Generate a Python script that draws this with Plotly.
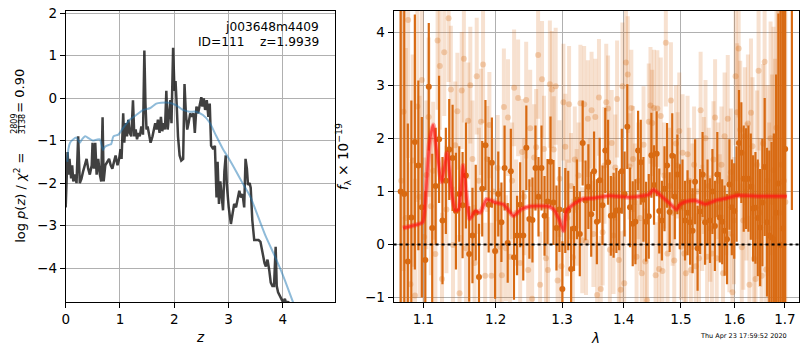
import numpy as np
import plotly.graph_objects as go

# ---------------- redshift probability p(z) ----------------
z_pz = [0, 0.02, 0.035, 0.055, 0.07, 0.1, 0.12, 0.14, 0.17, 0.2, 0.23, 0.26, 0.29, 0.32, 0.35,
        0.385, 0.415, 0.445, 0.48, 0.495, 0.52, 0.545, 0.57, 0.6, 0.63, 0.655, 0.68, 0.7, 0.73,
        0.765, 0.8, 0.83, 0.86, 0.89, 0.92, 0.955, 0.985, 1.01, 1.03, 1.06, 1.08, 1.105, 1.13,
        1.155, 1.18, 1.21, 1.24, 1.265, 1.29, 1.315, 1.34, 1.365, 1.395, 1.425, 1.45, 1.47, 1.49,
        1.51, 1.535, 1.565, 1.6, 1.62, 1.65, 1.675, 1.7, 1.73, 1.755, 1.78, 1.805, 1.83, 1.855,
        1.88, 1.9, 1.93, 1.95, 1.98, 2.005, 2.025, 2.045, 2.07, 2.1, 2.13, 2.165, 2.19, 2.215,
        2.24, 2.265, 2.295, 2.325, 2.355, 2.38, 2.41, 2.44, 2.47, 2.5, 2.52, 2.545, 2.57, 2.6,
        2.63, 2.655, 2.68, 2.72, 2.75, 2.78, 2.8, 2.825, 2.85, 2.875, 2.9, 2.925, 2.95, 2.97,
        3.005, 3.045, 3.075, 3.105, 3.14, 3.17, 3.2, 3.23, 3.26, 3.29, 3.315, 3.34, 3.36, 3.39,
        3.41, 3.44, 3.475, 3.505, 3.555, 3.59, 3.625, 3.665, 3.69, 3.72, 3.75, 3.78, 3.81, 3.84,
        3.87, 3.89, 3.915, 3.945, 3.97, 4.005, 4.04, 4.07, 4.1, 4.14]
logp_pz = [-2.57, -1.73, -1.27, -1.8, -1.43, -1.89, -1.58, -1.96, -1.8, -2.0, -0.9, -2.0, -1.9,
           -1.73, -1.58, -1.43, -1.66, -1.8, -1.58, -1.05, -1.66, -1.05, -1.8, -1.43, -1.8, -1.96,
           -0.45, -1.96, -1.58, -1.5, -1.43, -1.58, -1.66, -1.5, -1.35, -1.58, -1.43, -1.2, -1.43,
           -0.36, -1.05, -0.59, -0.9, -0.51, -0.82, -0.9, -0.05, -0.9, -0.74, -0.97, -0.82, -0.9,
           -0.67, -0.86, 1.12, -0.13, -0.74, -0.67, -0.9, -1.05, -0.9, -0.74, -0.59, -0.74, -0.51,
           -0.82, -0.44, -0.78, -0.59, -0.74, 0.17, -0.74, -0.51, -0.05, -0.59, 1.18, 0.17, 0.4,
           -0.13, -0.9, -1.35, -1.47, -1.43, 0.33, -0.36, -0.74, -0.59, -0.36, -0.44, -0.36, -0.82,
           -0.2, -0.36, -0.13, 0.02, -0.2, -0.01, -0.28, -0.05, -0.44, -0.13, -1.12, -1.2, -1.12,
           -2.34, -1.5, -2.49, -1.96, -2.34, -2.64, -1.73, -1.35, -2.04, -2.57, -2.96, -2.73,
           -2.49, -2.57, -2.34, -2.18, -2.34, -2.26, -2.57, -1.43, -1.66, -2.04, -2.0, -2.11,
           -2.88, -3.34, -3.34, -3.34, -3.38, -3.65, -3.88, -3.96, -3.8, -4.03, -4.34, -4.42,
           -4.42, -3.5, -4.42, -4.57, -4.65, -4.72, -4.8, -4.72, -4.85, -4.78, -4.95]

# smooth template-fit p(z)
z_tpl = [0.03, 0.05, 0.08, 0.13, 0.2, 0.26, 0.3, 0.36, 0.43, 0.5, 0.57, 0.63, 0.66, 0.69, 0.72,
         0.76, 0.8, 0.84, 0.88, 0.97, 1.06, 1.18, 1.3, 1.43, 1.55, 1.67, 1.76, 1.91, 2.04, 2.16,
         2.28, 2.4, 2.53, 2.65, 2.77, 2.89, 3.02, 3.14, 3.26, 3.41, 3.55, 3.69, 3.83, 3.96, 4.08,
         4.19, 4.3]
logp_tpl = [-1.5, -1.2, -1.05, -0.98, -0.93, -1.05, -0.97, -0.9, -0.95, -1.0, -0.98, -0.97,
            -1.1, -1.22, -1.15, -1.12, -1.1, -1.08, -0.9, -0.86, -0.7, -0.51, -0.4, -0.28, -0.24,
            -0.13, -0.11, -0.11, -0.17, -0.28, -0.32, -0.32, -0.4, -0.57, -0.88, -1.18, -1.45,
            -1.72, -2.0, -2.34, -2.8, -3.26, -3.65, -4.03, -4.42, -4.8, -5.15]

# ---------------- 1D spectrum (units of 1e-19) ----------------
wave_dark = np.round(1.0704 + 0.0046 * np.arange(141), 4)
flux_dark = [1.00, 0.95, -0.32, 0.51, 1.93, 1.49, 0.70, -0.29, 2.97, 0.31,
             1.10, 1.98, 0.45, 1.20, 1.79, 1.63, 0.63, 0.95, 0.74, 1.30,
             -0.18, 0.17, 0.60, -0.61, 1.05, 1.87, 0.75, 1.54, -0.12, 0.95,
             0.42, 1.44, 0.03, 1.38, -0.24, 0.17, 0.75, 0.17, 1.82, 0.48,
             0.46, 1.44, 0.90, 1.44, 0.54, 0.81, 1.56, 0.79, 0.31, 0.66,
             -0.84, 0.64, 0.64, -0.46, 0.30, 0.85, 0.20, 1.91, 0.83, 1.09,
             0.57, 1.38, 0.43, 1.21, 0.74, 1.77, 1.55, 0.54, 0.55, 0.64,
             0.64, 1.38, 0.95, 2.22, 0.70, 0.39, 0.43, 1.77, 1.55, 0.85,
             0.43, 0.53, 1.68, 1.12, 1.71, 0.63, 0.45, 1.05, 1.49, 0.61,
             1.67, 0.90, 1.32, 0.71, 0.80, 0.45, 0.60, 0.42, 0.26, 1.18,
             -0.07, 0.62, 1.32, 0.42, 0.80, 0.45, 1.00, 0.35, 1.32, 0.51,
             0.43, 0.26, 0.10, 1.13, 0.70, 0.63, 0.95, 1.91, 1.73, 1.24,
             1.24, 1.24, 1.09, 0.68, 0.69, 0.50, 0.32, 0.79, 1.46, 0.42,
             0.17, 0.13, 0.09, 0.60, 1.15, -0.01, 0.30, 1.80, None, None,
             4.90]
err_dark = [4.5, 3.6, 2.6, 2.2, 2.4, 1.6, 1.7, 1.3, 1.2, 1.4,
            1.1, 1.2, 1.2, 1.0, 0.95, 1.0, 1.1, 0.9, 1.0, 1.0,
            0.9, 0.9, 0.9, 1.0, 0.9, 0.85, 0.9, 0.85, 0.9, 0.8,
            0.75, 0.8, 0.75, 0.8, 0.8, 0.75, 0.8, 0.85, 0.8, 0.75,
            0.8, 0.8, 0.75, 0.8, 0.75, 0.8, 0.85, 0.8, 0.8, 0.8,
            0.9, 0.8, 0.75, 0.8, 0.8, 0.75, 0.8, 0.8, 0.75, 0.8,
            0.8, 0.75, 0.8, 0.8, 0.75, 0.8, 0.8, 0.75, 0.8, 0.8,
            0.75, 0.8, 0.8, 0.8, 0.75, 0.8, 0.8, 0.75, 0.8, 0.8,
            0.75, 0.8, 0.8, 0.75, 0.8, 0.8, 0.75, 0.8, 0.8, 0.75,
            0.8, 0.8, 0.75, 0.8, 0.8, 0.75, 0.8, 0.8, 0.8, 0.8,
            0.8, 0.8, 0.8, 0.8, 0.8, 0.8, 0.8, 0.85, 0.8, 0.85,
            0.8, 0.85, 0.85, 0.85, 0.9, 0.9, 0.9, 1.0, 0.95, 1.0,
            0.95, 1.0, 1.0, 1.0, 1.05, 1.1, 1.1, 1.2, 1.3, 1.4,
            1.6, 1.8, 2.0, 2.6, 3.2, 4.5, 5.0, 5.0, 0, 0,
            4.25]

wave_light = np.round(1.071 + 0.003 * np.arange(211), 4)
flux_light = [1.2, 2.5, 0.5, 4.23, -0.75, 1.58, -0.96, 2.6, 0.9, 3.1,
              0.14, 1.31, 2.4, 0.72, 1.39, -0.18, 3.84, 3.36, -0.65, 3.62,
              0.66, 4.26, 2.92, -0.01, 1.87, 2.51, -0.92, 2.90, 3.50, -0.07,
              2.33, 3.00, 1.61, -0.35, 3.17, 1.20, 2.31, 3.39, -0.59, 1.61,
              2.25, -0.59, 1.00, -0.13, 1.44, -0.04, -0.58, 2.59, -0.07, 2.39,
              -0.23, 1.20, 2.95, 0.60, 2.76, -0.35, 1.74, 0.90, 2.72, -0.48,
              2.19, -1.02, 1.64, 1.83, 3.57, -0.76, 3.11, 1.80, -0.26, -0.48,
              3.02, 2.92, 1.79, 2.98, -0.68, 1.24, -0.41, 2.68, 1.84, 0.50,
              2.64, 1.10, -0.24, 1.60, 0.70, 1.30, 2.66, 0.08, 2.64, 0.05,
              2.37, 1.00, 2.53, 0.20, 2.40, -0.95, 2.77, -0.84, 0.23, 1.49,
              2.68, 2.56, -0.10, 1.91, 0.17, 1.45, 2.74, -0.29, -0.85, 2.98,
              -0.73, 3.43, 3.20, 1.47, 2.57, 1.61, 0.80, -0.23, 1.20, 0.50,
              -0.54, 1.88, -0.32, -1.05, 2.31, 2.62, 2.29, 2.57, -0.58, 2.56,
              -0.46, 2.42, -0.50, 1.30, 3.80, -0.17, 1.10, 2.71, 0.60, -0.30,
              1.90, 1.49, 2.14, -0.04, 1.73, -0.17, -0.54, 1.70, 1.20, -0.48,
              0.90, 1.50, -0.41, 1.00, -0.26, 2.53, 0.50, 1.30, 2.00, -0.23,
              1.10, 0.30, -0.17, 1.60, 2.39, -0.26, 1.20, 0.70, 1.50, -0.54,
              2.04, 0.90, 2.37, 0.20, 1.36, -0.90, 0.45, 3.17, 2.49, 3.69,
              2.16, -0.05, 0.45, 2.04, 1.00, 2.28, -0.76, 2.48, 1.85, -0.27,
              -0.65, 1.50, 3.27, 0.60, -0.59, 1.90, 3.44, -0.47, 1.20, 0.30,
              2.00, 0.80, 1.40, 0.50, 2.20, 1.00, 0.60, 1.50, 0.90, 1.20,
              0.80]
err_light = [3.5, 3.0, 3.2, 2.6, 2.3, 2.0, 2.2, 1.8, 1.9, 1.6,
             1.5, 1.4, 1.5, 1.3, 1.3, 1.3, 1.3, 1.2, 1.25, 1.2,
             1.2, 1.2, 1.2, 1.1, 1.2, 1.1, 1.1, 1.1, 1.2, 1.1,
             1.1, 1.1, 1.1, 1.1, 1.1, 1.0, 1.0, 1.1, 1.0, 1.0,
             1.0, 1.0, 1.0, 1.0, 1.0, 1.1, 1.0, 1.1, 1.0, 1.1,
             1.0, 1.1, 1.1, 1.0, 1.1, 1.0, 1.0, 1.1, 1.1, 1.0,
             1.1, 1.0, 1.0, 1.1, 1.2, 1.0, 1.1, 1.0, 1.1, 1.0,
             1.2, 1.1, 1.0, 1.1, 1.0, 1.1, 1.0, 1.1, 1.0, 1.1,
             1.1, 1.0, 1.1, 1.0, 1.1, 1.0, 1.1, 1.0, 1.1, 1.0,
             1.1, 1.0, 1.1, 1.0, 1.1, 1.0, 1.1, 1.0, 1.0, 1.1,
             1.1, 1.0, 1.1, 1.0, 1.1, 1.0, 1.1, 1.0, 1.1, 1.2,
             1.0, 1.2, 1.1, 1.0, 1.1, 1.0, 1.1, 1.0, 1.1, 1.0,
             1.0, 1.1, 1.0, 1.1, 1.1, 1.1, 1.0, 1.1, 1.0, 1.1,
             1.0, 1.1, 1.0, 1.0, 1.2, 1.0, 1.1, 1.1, 1.0, 1.0,
             1.1, 1.0, 1.1, 1.0, 1.1, 1.0, 1.0, 1.1, 1.0, 1.0,
             1.0, 1.1, 1.0, 1.0, 1.0, 1.1, 1.0, 1.1, 1.1, 1.0,
             1.1, 1.0, 1.0, 1.1, 1.1, 1.0, 1.1, 1.0, 1.1, 1.1,
             1.2, 1.1, 1.2, 1.1, 1.2, 1.1, 1.2, 1.3, 1.3, 1.3,
             1.3, 1.2, 1.3, 1.3, 1.3, 1.3, 1.3, 1.4, 1.3, 1.4,
             1.4, 1.4, 1.5, 1.4, 1.5, 1.5, 1.6, 1.6, 1.8, 2.0,
             2.2, 2.4, 2.7, 3.0, 3.3, 3.6, 4.0, 4.3, 4.6, 5.0,
             5.0]

# best-fit model
wave_model = [1.0733, 1.0850, 1.0990, 1.1035, 1.1080, 1.1130, 1.1180, 1.1244, 1.1320, 1.1390,
              1.1432, 1.1475, 1.1540, 1.1590, 1.1630, 1.1710, 1.1780, 1.1870, 1.2000, 1.2120,
              1.2260, 1.2370, 1.2520, 1.2770, 1.2870, 1.2950, 1.3023, 1.3070, 1.3180, 1.3330,
              1.3480, 1.3760, 1.4090, 1.4430, 1.4510, 1.4620, 1.4790, 1.4920, 1.4980, 1.5090,
              1.5260, 1.5450, 1.5640, 1.5840, 1.6030, 1.6500, 1.7040]
flux_model = [0.31, 0.35, 0.42, 1.00, 1.90, 2.25, 1.75, 1.18, 1.73, 0.90,
              0.64, 0.66, 1.49, 0.85, 0.48, 0.63, 0.60, 0.85, 0.79, 0.75,
              0.54, 0.66, 0.72, 0.72, 0.66, 0.48, 0.26, 0.63, 0.76, 0.86,
              0.87, 0.92, 0.89, 0.94, 1.03, 0.94, 0.78, 0.66, 0.75, 0.81,
              0.83, 0.76, 0.83, 0.87, 0.92, 0.91, 0.91]

pz_xticks = [0, 1, 2, 3, 4]
pz_yticks = [-4, -3, -2, -1, 0, 1, 2]
sp_xticks = [1.1, 1.2, 1.3, 1.4, 1.5, 1.6, 1.7]
sp_yticks = [-1, 0, 1, 2, 3, 4]

# ---------------- figure ----------------
W, H = 800, 350
FONT = "DejaVu Sans"
ORANGE = "216,106,18"


def px(x):
    return x / W


def py(y):
    return 1 - y / H


fig = go.Figure()

fig.add_trace(go.Scatter(x=z_pz, y=logp_pz, mode="lines", xaxis="x", yaxis="y",
                         line=dict(color="rgba(30,30,30,0.85)", width=2.5), showlegend=False))
fig.add_trace(go.Scatter(x=z_tpl, y=logp_tpl, mode="lines", xaxis="x", yaxis="y",
                         line=dict(color="rgba(31,119,180,0.5)", width=2, shape="spline",
                                   smoothing=0.6), showlegend=False))

fig.add_trace(go.Scatter(
    x=wave_light, y=flux_light, mode="markers", xaxis="x2", yaxis="y2",
    marker=dict(color=f"rgba({ORANGE},0.28)", size=6, line=dict(width=0)),
    error_y=dict(type="data", array=err_light, color=f"rgba({ORANGE},0.2)",
                 thickness=4, width=0),
    showlegend=False))
fig.add_trace(go.Scatter(
    x=wave_dark, y=flux_dark, mode="markers", xaxis="x2", yaxis="y2",
    marker=dict(color=f"rgb({ORANGE})", size=6, line=dict(width=0)),
    error_y=dict(type="data", array=err_dark, color=f"rgb({ORANGE})",
                 thickness=2.2, width=0),
    showlegend=False))
fig.add_trace(go.Scatter(x=wave_model, y=flux_model, mode="lines", xaxis="x2", yaxis="y2",
                         line=dict(color="rgba(255,20,20,0.35)", width=5, shape="spline",
                                   smoothing=0.5), showlegend=False))
fig.add_trace(go.Scatter(x=wave_model, y=flux_model, mode="lines", xaxis="x2", yaxis="y2",
                         line=dict(color="rgba(255,20,20,0.6)", width=2.5, shape="spline",
                                   smoothing=0.5), showlegend=False))

axis_common = dict(showgrid=True, gridcolor="#b0b0b0", gridwidth=1, zeroline=False,
                   showline=True, mirror=True, linecolor="black", linewidth=1,
                   ticks="outside", ticklen=5, tickwidth=1, tickcolor="black",
                   ticklabeloverflow="allow",
                   tickfont=dict(family=FONT, size=13.5, color="black"))

ydom = [py(304), py(5)]
fig.update_layout(
    width=W, height=H, margin=dict(l=0, r=0, t=0, b=0),
    paper_bgcolor="white", plot_bgcolor="white",
    font=dict(family=FONT, color="black"),
    xaxis=dict(domain=[px(62), px(333)], range=[0, 4.97], tickvals=pz_xticks,
               anchor="y", **axis_common),
    yaxis=dict(domain=ydom, range=[-4.80, 2.05], tickvals=pz_yticks, anchor="x",
               **axis_common),
    xaxis2=dict(domain=[px(391.5), px(799.3)], type="log",
                range=[np.log10(1.0612), np.log10(1.7298)],
                tickvals=sp_xticks, ticktext=[f"{v:.1f}" for v in sp_xticks],
                anchor="y2", **axis_common),
    yaxis2=dict(domain=ydom, range=[-1.086, 4.40], tickvals=sp_yticks, anchor="x2",
                **axis_common),
)

# zero level of the spectrum
fig.add_shape(type="line", xref="x2 domain", yref="y2", x0=0, x1=1, y0=0, y1=0,
              line=dict(color="black", width=2, dash="3px,3px"), layer="above")

annotations = []


def ann(text, x, y, size, angle=0, xanchor="center", yanchor="middle"):
    annotations.append(dict(text=text, x=px(x), y=py(y), xref="paper", yref="paper",
                            showarrow=False, textangle=angle, xanchor=xanchor,
                            yanchor=yanchor, font=dict(family=FONT, size=size, color="black")))


ann("j003648m4409", 319, 22, 12.2, xanchor="right")
ann("ID=111    z=1.9939", 319, 37, 12.2, xanchor="right")

# left y-axis label with stacked fraction
ann("log <i>p</i>(<i>z</i>) / <i>χ</i><sup>2</sup> =", 16, 197, 13, angle=-90)
ann("2809", 11, 121, 8, angle=-90)
ann("3138", 18.5, 121, 8, angle=-90)
ann("= 0.90", 16, 87, 13, angle=-90)
fig.add_shape(type="line", xref="paper", yref="paper", x0=px(14.8), x1=px(14.8),
              y0=py(112), y1=py(130), line=dict(color="black", width=0.8))

ann("<i>z</i>", 197, 340, 13.5)
ann("<i>f</i><sub>λ</sub> × 10<sup>−19</sup>", 341, 155, 13.5, angle=-90)
ann("<i>λ</i>", 594, 341, 13.5)
ann("Thu Apr 23 17:59:52 2020", 743, 339, 6.5)

fig.update_layout(annotations=annotations)

fig.write_html("out.html")
